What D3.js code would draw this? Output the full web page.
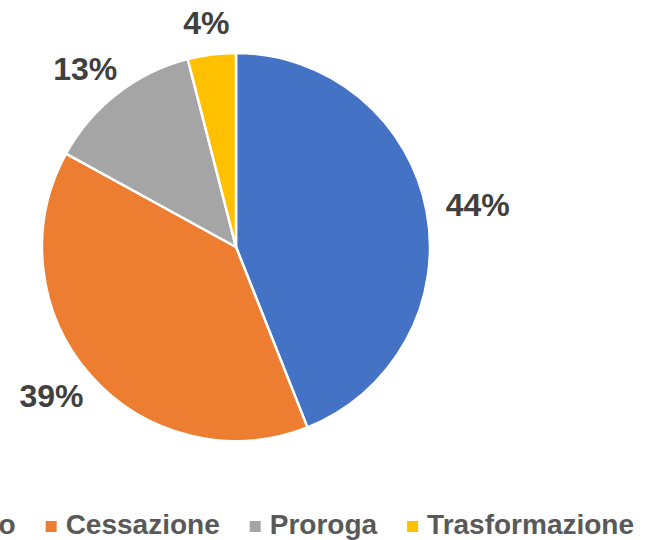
<!DOCTYPE html>
<html>
<head>
<meta charset="utf-8">
<script src="https://cdn.jsdelivr.net/npm/d3@7"></script>
<style>
	body { margin: 0; background: #fff; }
	svg { display: block; font-family: "Liberation Sans", Arial, sans-serif; }
</style>
</head>
<body>
<svg id="chart" width="652" height="540"></svg>
<script>
// data
const categories = ['Avviamento', 'Cessazione', 'Proroga', 'Trasformazione'];
const values = [44, 39, 13, 4];
const colors = ['#4472C4', '#ED7D31', '#A5A5A5', '#FFC000'];

const width = 652, height = 540;
const cx = 236, cy = 247, radius = 194;

let svg = d3.select('#chart');

const pie = d3.pie().sort(null).value((d) => d.value);
const arcs = pie(categories.map((c, i) => ({name: c, value: values[i]})));
const arc = d3.arc().innerRadius(0).outerRadius(radius);
const color = d3.scaleOrdinal().domain(categories).range(colors);

let g = svg.append('g').attr('transform', 'translate(' + cx + ',' + cy + ')');

g.selectAll('path')
	.data(arcs)
	.enter().append('path')
	.attr('d', arc)
	.attr('fill', (d) => color(d.data.name))
	.attr('stroke', '#fff')
	.attr('stroke-width', 2.5)
	.attr('stroke-linejoin', 'round');

// outside end labels
const total = d3.sum(values);
const gap = 20;
g.selectAll('text.lbl')
	.data(arcs)
	.enter().append('text')
	.attr('class', 'lbl')
	.attr('text-anchor', 'middle')
	.attr('dy', '0.35em')
	.attr('fill', '#404040')
	.attr('font-size', 32)
	.attr('font-weight', 'bold')
	.text((d) => Math.round(d.data.value / total * 100) + '%')
	.each(function(d) {
		const a = (d.startAngle + d.endAngle) / 2;
		const s = Math.sin(a), c = -Math.cos(a);
		const w = this.getComputedTextLength();
		const h = 23;
		const dist = radius + gap;
		const x = s * dist + s * w / 2;
		const y = c * dist + c * h / 2;
		d3.select(this).attr('x', x).attr('y', y);
	});

// legend
let legend = svg.append('g').attr('transform', 'translate(0,534)');
let items = legend.selectAll('g')
	.data(categories)
	.enter().append('g');

items.append('rect')
	.attr('y', -13)
	.attr('width', 11)
	.attr('height', 11)
	.attr('fill', (d) => color(d));

items.append('text')
	.attr('x', 20)
	.attr('fill', '#595959')
	.attr('font-size', 28)
	.attr('font-weight', 'bold')
	.text((d) => d);

let xpos = 0;
items.each(function() {
	const tw = d3.select(this).select('text').node().getComputedTextLength();
	d3.select(this).attr('transform', 'translate(' + xpos + ',0)');
	xpos += 20 + tw + 30;
});
const legendWidth = xpos - 30;
legend.attr('transform', 'translate(' + (cx - legendWidth / 2) + ',534)');
</script>
</body>
</html>
